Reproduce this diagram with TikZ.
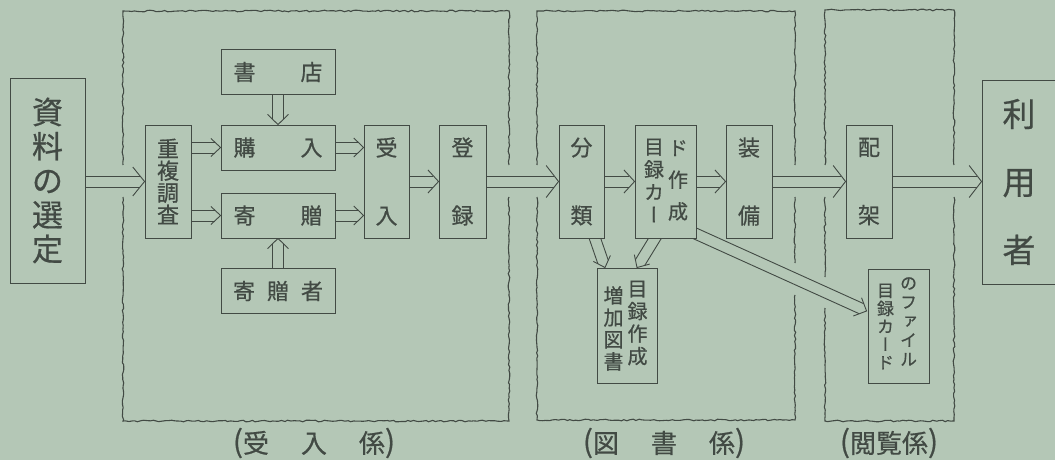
\documentclass[tikz,border=0pt]{standalone}
\usepackage{fontspec}
\setmainfont{Noto Sans CJK JP}[FakeBold=0.6]
\newfontfamily\vjp{Noto Sans CJK JP}[RawFeature=+vert,FakeBold=0.6]
\usetikzlibrary{calc,decorations.pathmorphing}
\definecolor{paper}{RGB}{180,199,182}
\definecolor{ink}{RGB}{66,74,68}
\pgfdeclarelayer{bglayer}
\pgfdeclarelayer{arrlayer}
\pgfsetlayers{bglayer,arrlayer,main}
\tikzset{
  box/.style={draw=ink, line width=0.9pt, fill=paper, inner sep=0pt, text=ink, align=center},
  conn/.style={draw=ink, line width=0.9pt},
  wavy/.style={draw=ink, line width=1.1pt, decorate, decoration={random steps, segment length=3pt, amplitude=0.8pt}},
  txt/.style={inner sep=0pt, text=ink, align=center},
  vbox/.style={box, minimum height=113pt, font=\fontsize{22}{68}\selectfont},
  hbox/.style={box, minimum width=114pt, minimum height=45pt, font=\fontsize{22}{22}\selectfont},
  lab/.style={txt, font=\fontsize{26}{26}\selectfont},
}
\newcommand\DArrow[3][10]{%
  \pgfmathsetmacro\dL{0.4*#1+6}%
  \pgfmathsetmacro\dS{\dL*5.5/#1}%
  \path (#2) coordinate (da) (#3) coordinate (db);
  \path ($(db)!\dL pt!(da)$) coordinate (dc) ($(db)!\dS pt!(da)$) coordinate (dd);
  \draw[conn] ($(da)!5.5pt!90:(db)$) -- ($(dd)!5.5pt!-90:(da)$);
  \draw[conn] ($(da)!5.5pt!-90:(db)$) -- ($(dd)!5.5pt!90:(da)$);
  \draw[conn] ($(dc)!#1pt!-90:(da)$) -- (db) -- ($(dc)!#1pt!90:(da)$);
}
\newcommand\bp[1]{{\fontsize{30}{30}\selectfont\raisebox{0.5pt}{#1}}}
\begin{document}
\begin{tikzpicture}[x=1pt,y=-1pt]
\pgfmathsetseed{7}
\useasboundingbox (0,0) rectangle (1055,460);
\begin{pgfonlayer}{bglayer}
\fill[paper] (0,0) rectangle (1055,460);
\end{pgfonlayer}

% boxes
\node[box, minimum width=75pt, minimum height=205pt, font=\fontsize{31}{34.25}\selectfont] (sel) at (47.5,180.5) {資\\料\\の\\選\\定};
\node[box, minimum width=46pt, minimum height=113pt, font=\fontsize{22}{22}\selectfont] (dup) at (168,181.5) {重\\複\\調\\査};
\node[hbox] (shoten) at (278,72) {書\hspace{45pt}店};
\node[hbox] (kou) at (278,147.5) {購\hspace{45pt}入};
\node[hbox] (kiz) at (278,215.5) {寄\hspace{45pt}贈};
\node[hbox] (kizsha) at (278,291) {寄\hspace{12pt}贈\hspace{12pt}者};
\node[vbox, minimum width=45pt] (uke) at (386.5,181.5) {受\\入};
\node[vbox, minimum width=47pt] (tou) at (462.5,181.5) {登\\録};
\node[vbox, minimum width=45pt] (bun) at (581.5,181.5) {分\\類};
\node[box, minimum width=61pt, minimum height=113pt] (mok) at (665.5,181.5) {};
\node[txt, font=\vjp\fontsize{20}{22.7}\selectfont] (mokL) at (654,180.5) {目\\録\\カ\\ー};
\node[txt, font=\vjp\fontsize{20}{31.75}\selectfont] (mokR) at (678,180.5) {ド\\作\\成};
\node[vbox, minimum width=46pt] (sou) at (749,181.5) {装\\備};
\node[box, minimum width=60pt, minimum height=115pt] (zou) at (627,325.5) {};
\node[txt, font=\fontsize{20}{22}\selectfont] (zouL) at (613.5,328.5) {増\\加\\図\\書};
\node[txt, font=\fontsize{20}{22.5}\selectfont] (zouR) at (637.5,323) {目\\録\\作\\成};
\node[vbox, minimum width=46pt] (hai) at (869,181.5) {配\\架};
\node[box, minimum width=61pt, minimum height=114pt] (file) at (898.5,326) {};
\node[txt, font=\vjp\fontsize{17}{18}\selectfont] (fileL) at (885.5,326.5) {目\\録\\カ\\ー\\ド};
\node[txt, font=\vjp\fontsize{17}{19}\selectfont] (fileR) at (908.5,321.5) {の\\フ\\ァ\\イ\\ル};
\node[box, minimum width=74pt, minimum height=204pt, font=\fontsize{33}{68}\selectfont] (riyo) at (1019,182) {利\\用\\者};

% section frames
\draw[wavy] (123,165) -- (123,11) -- (509,11) -- (509,165);
\draw[wavy] (123,197) -- (123,421) -- (509,421) -- (509,197);
\draw[wavy] (537,165) -- (537,11) -- (795,11) -- (795,165);
\draw[wavy] (795,197) -- (795,263);
\draw[wavy] (537,197) -- (537,420) -- (795,420) -- (795,295);
\draw[wavy] (825,165) -- (825,10) -- (954,10) -- (954,165);
\draw[wavy] (825,197) -- (825,277);
\draw[wavy] (825,308) -- (825,421) -- (954,421) -- (954,197);

% labels
\node[lab] (l1) at (314,443) {\bp{(}受\hspace{32pt}入\hspace{32pt}係\bp{)}};
\node[lab] (l2) at (664,443) {\bp{(}図\hspace{32pt}書\hspace{32pt}係\bp{)}};
\node[lab] (l3) at (889,443) {\bp{(}閲覧係\bp{)}};

% arrows
\begin{pgfonlayer}{arrlayer}
\DArrow[14.5]{sel.east |- dup.west}{dup.west}
\DArrow[9]{dup.east |- kou.west}{kou.west}
\DArrow[9]{dup.east |- kiz.west}{kiz.west}
\DArrow[10.5]{shoten.south}{kou.north}
\DArrow[10.5]{kizsha.north}{kiz.south}
\DArrow[9.5]{kou.east}{uke.west |- kou.east}
\DArrow[9.5]{kiz.east}{uke.west |- kiz.east}
\DArrow[11.5]{uke.east}{tou.west}
\DArrow[16]{tou.east}{bun.west}
\DArrow[11.5]{bun.east}{mok.west}
\DArrow[11.5]{mok.east}{sou.west}
\DArrow[16]{sou.east}{hai.west}
\DArrow[16]{hai.east}{riyo.west |- hai.east}
\DArrow[9]{$(bun.south)+(10,-10)$}{$(zou.north)+(-22,0)$}
\DArrow[9]{$(mok.south)+(-4.5,-10)$}{$(zou.north)+(10,0)$}
\DArrow[10]{$(mok.south east)+(-8,-8)$}{$(file.west)+(-1,-15)$}
\end{pgfonlayer}
\end{tikzpicture}
\end{document}
